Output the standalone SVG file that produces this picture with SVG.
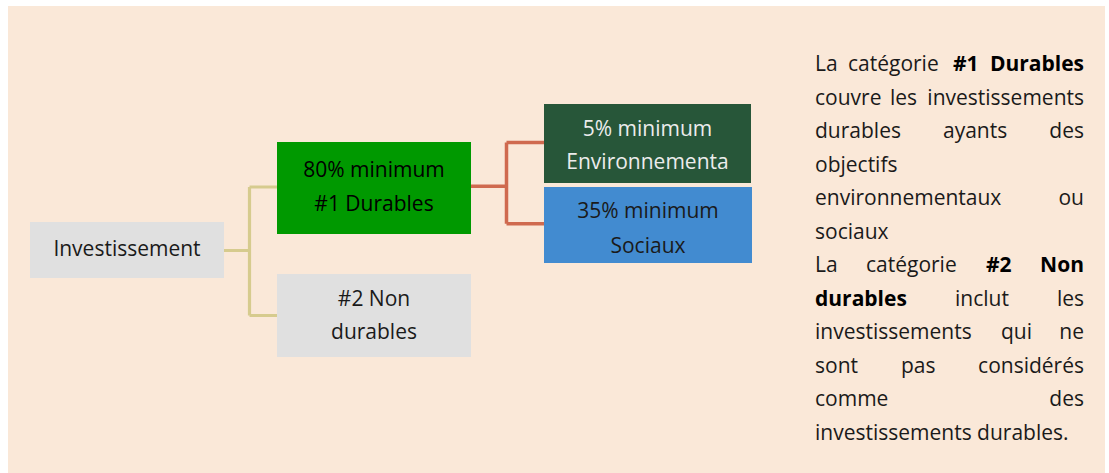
<svg xmlns="http://www.w3.org/2000/svg" width="1109" height="473" viewBox="0 0 1109 473">
<style>
text{font-family:"Open Sans","Noto Sans","DejaVu Sans",sans-serif;font-size:21px;fill:#1a1a1a}
.c{text-anchor:middle}
.e{text-anchor:end}
.b{font-weight:bold;fill:#000}
.w{fill:#ececec}
.k{fill:#000}
.yl{fill:none;stroke:#d6cb8e;stroke-width:3.2}
.rl{fill:none;stroke:#cf6a4f;stroke-width:3.5}
</style>
<rect x="0" y="0" width="1109" height="473" fill="#ffffff"/>
<rect x="8" y="6" width="1097" height="467" fill="#fae8d8"/>
<g id="connectors">
<path class="yl" d="M224 250.5H249.5M249.5 187V315.5M249.5 187H277M249.5 315.5H277"/>
<path class="rl" d="M471 186.3H506.5M506.5 142.5V223.8M506.5 142.5H544M506.5 223.8H544"/>
</g>
<g id="investissement">
<rect x="30" y="222" width="194" height="56" fill="#e0e0e0"/>
<text class="c" x="127" y="256">Investissement</text>
</g>
<g id="durables">
<rect x="277" y="142" width="194" height="92" fill="#009900"/>
<text class="c k" x="374" y="177.3">80% minimum</text>
<text class="c k" x="374" y="211">#1 Durables</text>
</g>
<g id="non-durables">
<rect x="277" y="274" width="194" height="83" fill="#e0e0e0"/>
<text class="c" x="374" y="305.7">#2 Non</text>
<text class="c" x="374" y="339.3">durables</text>
</g>
<g id="environnemental">
<rect x="544" y="104" width="207" height="79" fill="#275639"/>
<text class="c w" x="647.5" y="136">5% minimum</text>
<text class="c w" x="647.5" y="169.3">Environnementa</text>
</g>
<g id="sociaux">
<rect x="544" y="187" width="208" height="76" fill="#428bd0"/>
<text class="c" x="648" y="218.3">35% minimum</text>
<text class="c" x="648" y="252.7">Sociaux</text>
</g>
<g id="legende">
<text x="815" y="71">La</text><text x="848" y="71">catégorie</text><text class="b" x="953" y="71">#1</text><text class="b e" x="1084" y="71">Durables</text>
<text x="815" y="104.5">couvre</text><text x="890" y="104.5">les</text><text class="e" x="1084" y="104.5">investissements</text>
<text x="815" y="138">durables</text><text x="943" y="138">ayants</text><text class="e" x="1084" y="138">des</text>
<text x="815" y="171.5">objectifs</text>
<text x="815" y="205">environnementaux</text><text class="e" x="1084" y="205">ou</text>
<text x="815" y="238.5">sociaux</text>
<text x="815" y="272">La</text><text x="866" y="272">catégorie</text><text class="b" x="986" y="272">#2</text><text class="b e" x="1084" y="272">Non</text>
<text class="b" x="815" y="305.5">durables</text><text x="955" y="305.5">inclut</text><text class="e" x="1084" y="305.5">les</text>
<text x="815" y="339">investissements</text><text x="1001" y="339">qui</text><text class="e" x="1084" y="339">ne</text>
<text x="815" y="372.5">sont</text><text x="901" y="372.5">pas</text><text class="e" x="1084" y="372.5">considérés</text>
<text x="815" y="406">comme</text><text class="e" x="1084" y="406">des</text>
<text x="815" y="439.5">investissements durables.</text>
</g>
</svg>
